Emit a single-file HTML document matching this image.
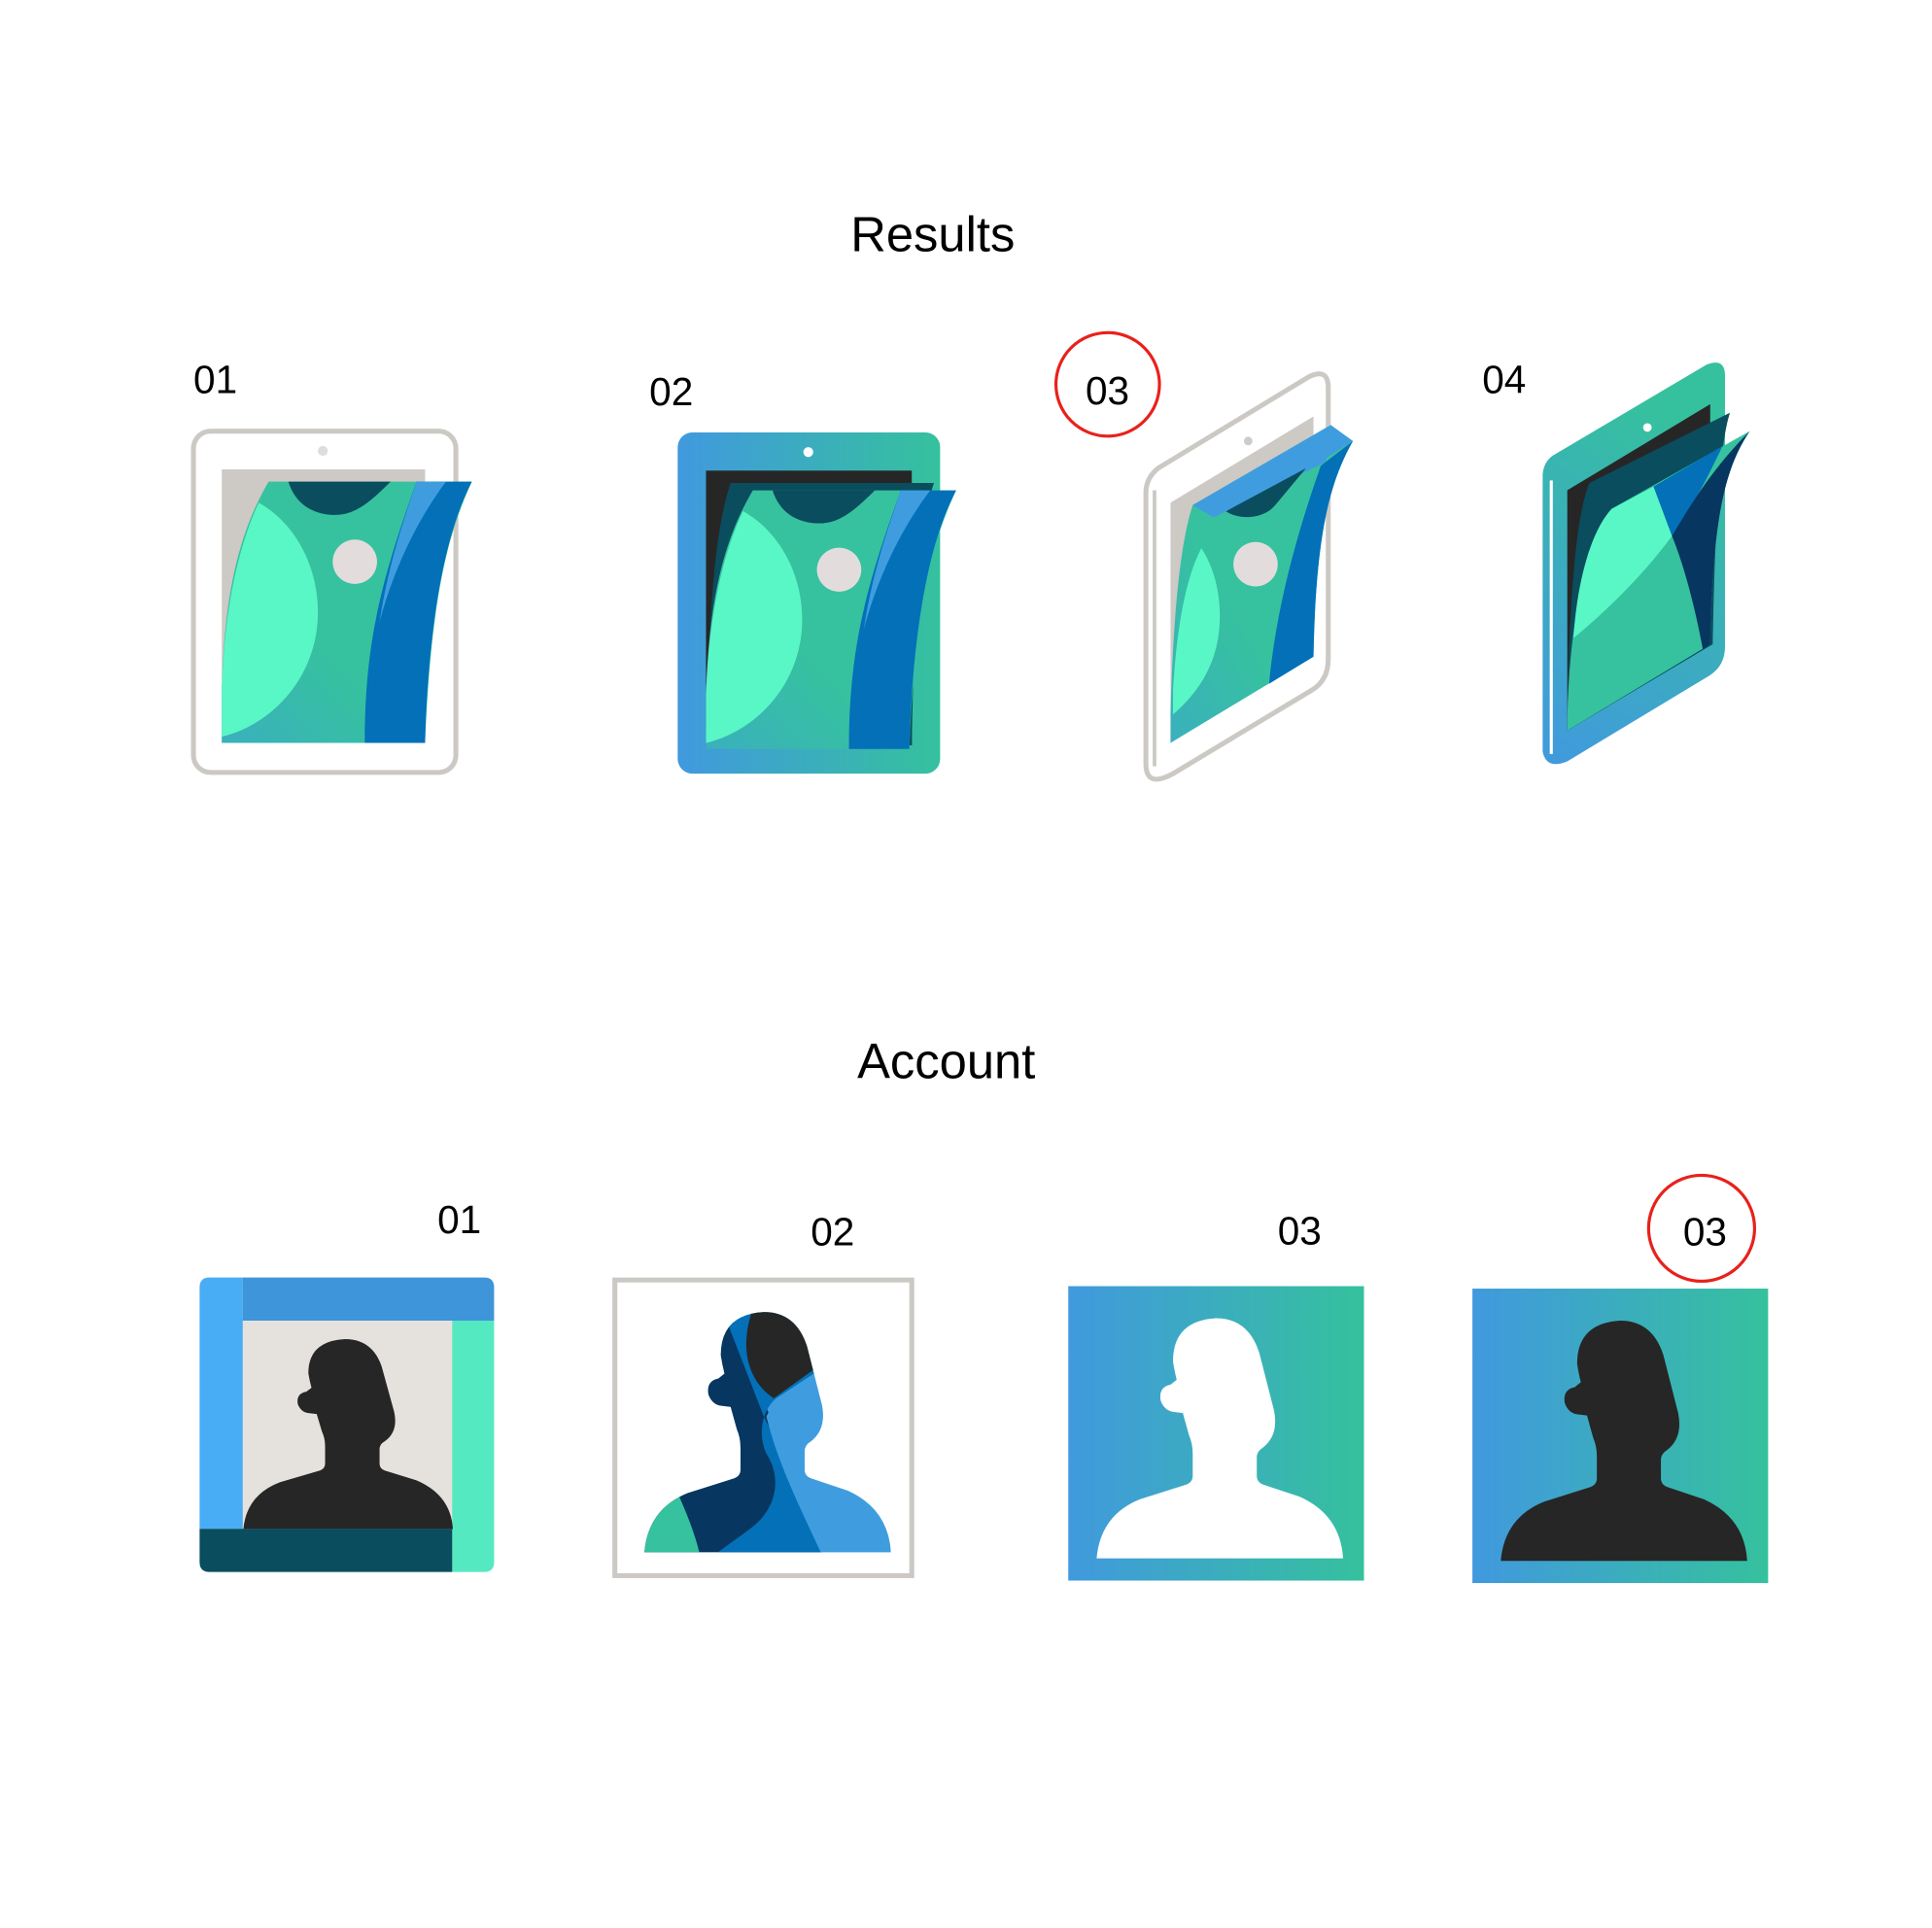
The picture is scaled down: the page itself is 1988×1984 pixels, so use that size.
<!DOCTYPE html>
<html><head><meta charset="utf-8"><style>html,body{margin:0;padding:0;background:#fff}svg{display:block}</style></head>
<body>
<svg width="1988" height="1984" viewBox="0 0 1568 1565" preserveAspectRatio="none" xmlns="http://www.w3.org/2000/svg" font-family="Liberation Sans, sans-serif">
<defs>
<linearGradient id="bg" x1="0" y1="0" x2="1" y2="0"><stop offset="0" stop-color="#4199de"/><stop offset="1" stop-color="#35c19d"/></linearGradient>
<linearGradient id="bv" x1="0" y1="1" x2="0.3" y2="0"><stop offset="0" stop-color="#4199de"/><stop offset="1" stop-color="#35c19d"/></linearGradient>
<linearGradient id="gg" x1="0" y1="1" x2="1" y2="0"><stop offset="0" stop-color="#3ab0bd"/><stop offset="0.4" stop-color="#36c29e"/><stop offset="1" stop-color="#36c29e"/></linearGradient>
<path id="person" d="M960,1147 L965,1165 Q968,1172 968,1180 L968,1198 Q968,1203 963,1205 L925,1217 Q893,1230 890,1265 L1090,1265 Q1088,1230 1055,1215 L1025,1205 Q1020,1203 1020,1198 L1020,1183 Q1020,1178 1025,1175 Q1038,1165 1034,1145 L1022,1098 Q1013,1070 987,1070 Q952,1072 952,1105 Q953,1112 955,1120 L950,1124 Q940,1126 942,1137 Q945,1145 952,1146 Z"/>
<clipPath id="pc"><use href="#person" transform="translate(-367,-5)"/></clipPath>
<g id="page">
<path d="M218,391 L383,391 C365,430 350,480 345,603 L180,603 L180,560 C182,480 195,430 218,391 Z" fill="url(#gg)"/>
<path d="M210,408 C240,425 258,460 258,497 C258,548 222,588 180,598 L180,560 C182,490 195,440 210,408 Z" fill="#5af7c6"/>
<path d="M234,391 C240,410 255,418 272,418 C288,418 300,408 317,391 Z" fill="#0a4d5e"/>
<path d="M338,391 L383,391 C365,425 348,490 345,603 L296,603 C296,520 310,470 338,391 Z" fill="#0370b8"/>
<path d="M338,391 L362,391 C340,420 320,460 308,505 C315,460 325,430 338,391 Z" fill="#3f9ddf"/>
<circle cx="288" cy="456" r="18" fill="#e3dcdc"/>
</g>
</defs>

<text x="757" y="204" font-size="40" text-anchor="middle">Results</text>
<text x="768" y="875" font-size="40" text-anchor="middle">Account</text>

<g font-size="32">
<text x="157" y="319">01</text>
<text x="527" y="329">02</text>
<text x="881" y="328">03</text>
<text x="1203" y="319">04</text>
<text x="355" y="1001">01</text>
<text x="658" y="1011">02</text>
<text x="1037" y="1010">03</text>
<text x="1366" y="1011">03</text>
</g>
<circle cx="899" cy="312" r="42" fill="none" stroke="#e8211c" stroke-width="2.5"/>
<circle cx="1381" cy="997" r="43" fill="none" stroke="#e8211c" stroke-width="2.5"/>

<!-- tablet 01 -->
<rect x="157" y="350" width="213" height="277" rx="14" fill="#fff" stroke="#ccc9c4" stroke-width="4"/>
<circle cx="262" cy="366" r="4" fill="#ddd"/>
<rect x="180" y="381" width="165" height="222" fill="#cdc9c4"/>
<use href="#page"/>

<!-- tablet 02 -->
<rect x="550" y="351" width="213" height="277" rx="12" fill="url(#bg)"/>
<circle cx="656" cy="367" r="4" fill="#fff"/>
<rect x="573" y="382" width="167" height="223" fill="#262626"/>
<path d="M593,392 L758,392 C745,430 742,500 740,605 L573,605 C575,500 580,430 593,392Z" fill="#0a4d5e"/>
<use href="#page" transform="translate(393,11) scale(1,0.99)"/>

<!-- tablet 03 -->
<path d="M940,380 L1062,306 Q1078,298 1078,315 L1078,535 Q1078,552 1065,560 L952,628 Q930,640 930,620 L930,400 Q930,388 940,380 Z" fill="#fff" stroke="#ccc9c4" stroke-width="4"/>
<line x1="937" y1="398" x2="937" y2="622" stroke="#ccc9c4" stroke-width="3"/>
<circle cx="1013" cy="358" r="3.5" fill="#ccc"/>
<polygon points="950,408 1066,338 1066,533 950,603" fill="#cdc9c4"/>
<path d="M968,410 L1080,345 L1098,358 C1080,390 1068,430 1066,533 L950,603 L950,580 C952,500 958,440 968,410 Z" fill="url(#gg)"/>
<path d="M968,410 L1080,345 L1076,375 L985,420 Z" fill="#3f9ddf"/>
<path d="M995,415 C1005,422 1025,422 1035,410 L1060,380 Z" fill="#0a4d5e"/>
<path d="M975,445 C985,460 990,480 990,500 C990,535 975,560 952,580 L952,560 C955,510 962,470 975,445 Z" fill="#5af7c6"/>
<path d="M1072,378 L1098,358 C1080,390 1068,430 1066,533 L1030,555 C1035,500 1050,440 1072,378 Z" fill="#0370b8"/>
<path d="M1076,372 L1098,358 L1080,345 Z" fill="#3f9ddf"/>
<circle cx="1019" cy="458" r="18" fill="#e3dcdc"/>

<!-- tablet 04 -->
<path d="M1260,370 L1385,296 Q1400,290 1400,305 L1400,525 Q1400,540 1388,548 L1272,618 Q1255,625 1252,610 L1252,385 Q1253,375 1260,370 Z" fill="url(#bv)"/>
<line x1="1259" y1="390" x2="1259" y2="612" stroke="#fff" stroke-width="2.5"/>
<circle cx="1337" cy="347" r="3.5" fill="#fff"/>
<polygon points="1272,398 1388,328 1388,523 1272,593" fill="#262626"/>
<path d="M1290,392 L1404,335 C1396,360 1392,420 1390,523 L1272,593 C1273,500 1278,420 1290,392Z" fill="#0a4d5e"/>
<path d="M1308,413 L1420,350 C1400,380 1390,420 1388,523 L1272,593 C1272,520 1285,440 1308,413 Z" fill="#36c29e"/>
<path d="M1308,413 L1342,395 L1357,435 C1335,465 1305,495 1277,518 C1280,470 1292,430 1308,413 Z" fill="#5af7c6"/>
<path d="M1342,395 L1398,362 C1380,400 1368,420 1357,435 Z" fill="#0370b8"/>
<path d="M1357,435 C1372,410 1390,380 1420,350 C1400,380 1390,420 1388,523 L1382,527 C1375,490 1367,460 1357,435 Z" fill="#073660"/>

<!-- avatar 01 -->
<rect x="162" y="1037" width="239" height="239" rx="8" fill="#e5e2dd"/>
<path d="M170,1037 L197,1037 L197,1241 L162,1241 L162,1045 Q162,1037 170,1037Z" fill="#48adf5"/>
<path d="M197,1037 L393,1037 Q401,1037 401,1045 L401,1072 L197,1072Z" fill="#3f95d9"/>
<path d="M367,1072 L401,1072 L401,1268 Q401,1276 393,1276 L367,1276Z" fill="#55e9c1"/>
<use href="#person" fill="#262626" transform="translate(280,1087) scale(0.85,0.79) translate(-987,-1070)"/>
<path d="M162,1241 L367,1241 L367,1276 L170,1276 Q162,1276 162,1268Z" fill="#0a4d5e"/>

<!-- avatar 02 -->
<rect x="499" y="1039" width="241" height="240" fill="#fff" stroke="#ccc9c4" stroke-width="4"/>
<g clip-path="url(#pc)">
<rect x="500" y="1050" width="240" height="220" fill="#3f9ddf"/>
<path d="M500,1060 L590,1060 L625,1150 C640,1190 655,1225 667,1262 L500,1262Z" fill="#073660"/>
<path d="M585,1060 L620,1150 C640,1190 655,1225 667,1262 L580,1262 L610,1240 C630,1225 635,1200 622,1180 C615,1165 618,1145 630,1135 L665,1112 L665,1060 Z" fill="#0370b8"/>
<path d="M622,1150 C632,1190 650,1225 667,1262 L740,1262 L740,1140 L660,1140 C640,1140 628,1135 622,1150Z" fill="#3f9ddf"/>
<path d="M612,1060 C600,1090 605,1120 628,1135 L660,1112 L655,1060 Z" fill="#262626"/>
<path d="M500,1200 L550,1212 C558,1230 564,1245 568,1262 L500,1262 Z" fill="#36c29e"/>
</g>

<!-- avatar 03 -->
<rect x="867" y="1044" width="240" height="239" fill="url(#bg)"/>
<use href="#person" fill="#fff"/>

<!-- avatar 04 -->
<rect x="1195" y="1046" width="240" height="239" fill="url(#bg)"/>
<use href="#person" fill="#262626" transform="translate(328,2)"/>
</svg>
</body></html>
